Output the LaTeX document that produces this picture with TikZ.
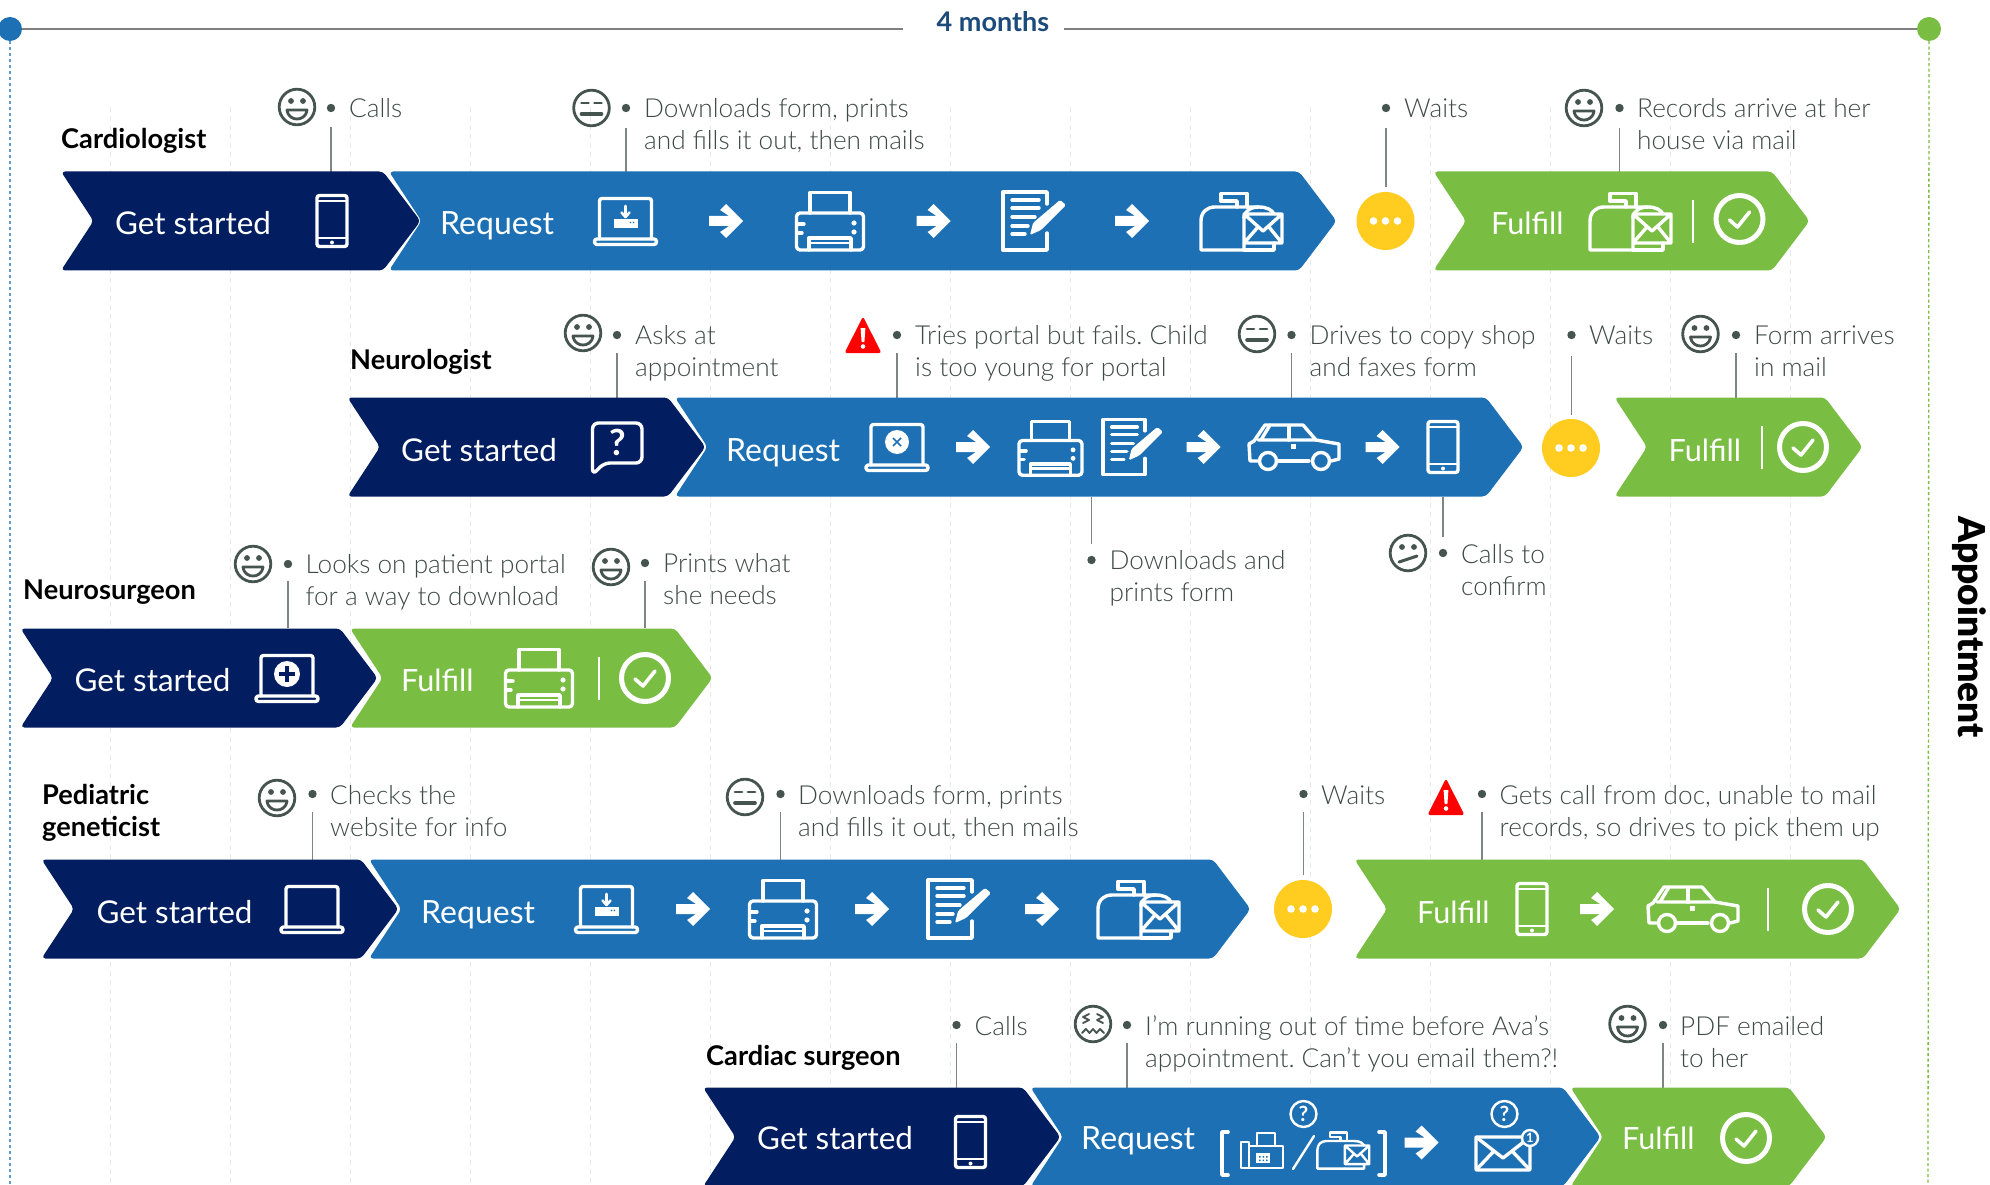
\documentclass[tikz,border=0pt]{standalone}
\usepackage{fontspec}
\setmainfont{Lato}[UprightFont=* Light,BoldFont=* Bold]
\newfontfamily\regf{Lato}
\newfontfamily\heavyf{Lato Black}
\frenchspacing
\definecolor{cdark}{HTML}{021E60}
\definecolor{cblue}{HTML}{1C70B3}
\definecolor{cgreen}{HTML}{79BD43}
\definecolor{cyellow}{HTML}{FFCC1F}
\definecolor{cface}{HTML}{46544F}
\definecolor{ctext}{HTML}{3E4A47}
\definecolor{cleader}{HTML}{7E8684}
\definecolor{cgrid}{HTML}{E9E9E9}
\definecolor{cmonths}{HTML}{1B4B7A}
\tikzset{
 x=1pt,y=-1pt,
 ic/.style={draw=white,line width=3.4,line join=round,line cap=round},
 icthin/.style={draw=white,line width=2.4,line join=round,line cap=round},
 fc/.style={draw=cface,line width=2.8,line cap=round,line join=round},
 annot/.style={anchor=north west,inner sep=0pt,align=left,text=ctext,font=\fontsize{26.2}{32}\selectfont},
 namelab/.style={anchor=base west,inner sep=0pt,align=left,text=black,font=\fontsize{27.2}{32}\selectfont\bfseries},
 chevlab/.style={anchor=base west,inner sep=0pt,text=white,font=\fontsize{32}{36}\selectfont\regf},
 getlab/.style={chevlab,font=\fontsize{31.4}{36}\selectfont\regf},
 fullab/.style={chevlab,font=\fontsize{30.6}{36}\selectfont\regf},
 bul/.style={circle,fill=cface,inner sep=0pt,minimum size=8.4pt},
 leader/.style={draw=cleader,line width=1.6},
 gridline/.style={draw=cgrid,line width=1,dash pattern=on 5pt off 4pt},
}
\newcommand\chev[5]{\fill[#5,rounded corners=4] (#2-1.5,#4-49.5) -- (#2+31,#4) -- (#2-1.5,#4+49.5) -- (#3-36,#4+49.5) -- (#3+1.5,#4) -- (#3-36,#4-49.5) -- cycle;\coordinate (#1) at (#2,#4);}
\newcommand\note[5]{\node[bul] (#1) at (#2,#3) {};\coordinate (#1-a) at (#2,#4);\coordinate (#1-b) at (#2,#5);\draw[leader] (#1-a) -- (#1-b);}
\newcommand\anno[4]{\node[annot] (#1) at (#2,#3-21.5) {\rule{0pt}{22pt}#4};}
\newcommand\dotw[3]{\node[circle,fill=cyellow,inner sep=0pt,minimum size=58pt] (#1) at (#2,#3) {};\fill[white] (#2-12,#3) circle[radius=3.8] (#2,#3) circle[radius=3.8] (#2+12,#3) circle[radius=3.8];}
% faces
\newcommand\facebase[2]{\draw[fc] (#1,#2) circle[radius=17.8];}
\newcommand\facehappy[2]{\facebase{#1}{#2}\begin{scope}[shift={(#1,#2)}]
 \fill[cface] (-6,-6) circle[radius=2.9] (6,-6) circle[radius=2.9];
 \draw[fc] (-10,3) -- (10,3) .. controls (9,10) and (4,12) .. (0,12) .. controls (-4,12) and (-9,10) .. (-10,3) -- cycle;
 \end{scope}}
\newcommand\faceflat[2]{\facebase{#1}{#2}\begin{scope}[shift={(#1,#2)}]
 \draw[fc] (-10,-5) -- (-3,-5) (3,-5) -- (10,-5);
 \draw[fc,line width=3.6] (-10,6) -- (10,6);
 \end{scope}}
\newcommand\faceconf[2]{\facebase{#1}{#2}\begin{scope}[shift={(#1,#2)}]
 \fill[cface] (-6,-6) circle[radius=2.9] (6,-6) circle[radius=2.9];
 \draw[fc,line width=3] (-9,9) -- (9,3);
 \end{scope}}
\newcommand\facegrim[2]{\facebase{#1}{#2}\begin{scope}[shift={(#1,#2)}]
 \draw[fc,line width=1.8] (-4,-10) -- (-10,-7) -- (-4,-4) -- (-10,-1);
 \draw[fc,line width=1.8] (4,-10) -- (10,-7) -- (4,-4) -- (10,-1);
 \draw[fc,line width=1.8] (-11,9) -- (-7,5) -- (-3.5,9) -- (0,5) -- (3.5,9) -- (7,5) -- (11,9);
 \end{scope}}
\newcommand\warn[2]{\begin{scope}[shift={(#1,#2)}]
 \fill[red,rounded corners=2.5] (0,-18.5) -- (18.5,18) -- (-18.5,18) -- cycle;
 \fill[white] (-2.4,-7) -- (2.4,-7) -- (1.4,7) -- (-1.4,7) -- cycle;
 \fill[white] (0,11.5) circle[radius=2.3];
 \end{scope}}
% icons
\newcommand\arr[2]{\fill[white,shift={(#1,#2)}] (17,0) -- (0,17) -- (-6,11) -- (3,5) -- (-17,5) -- (-17,-5) -- (3,-5) -- (-6,-11) -- (0,-17) -- cycle;}
\newcommand\phone[2]{\begin{scope}[shift={(#1,#2)}]
 \draw[ic,rounded corners=2.5] (-15,-25.5) rectangle (15,25.5);
 \draw[icthin,line width=2.5] (-15,-20) -- (15,-20) (-15,17) -- (15,17);
 \fill[white] (0,21.5) circle[radius=2];
 \end{scope}}
\newcommand\laptop[2]{\begin{scope}[shift={(#1,#2)}]
 \draw[ic,rounded corners=2.5] (-26,18) -- (-26,-22.5) -- (26,-22.5) -- (26,18);
 \draw[ic,rounded corners=2.5] (-31,18) rectangle (31,23.5);
 \end{scope}}
\newcommand\laptopdl[3]{\laptop{#1}{#2}\begin{scope}[shift={(#1,#2)}]
 \fill[white] (-11.5,-2) rectangle (12,7);
 \fill[#3] (5,1.5) circle[radius=.9] (8,1.5) circle[radius=.9];
 \draw[icthin,line width=2.6] (0,-15) -- (0,-5) (-4,-8.5) -- (0,-4) -- (4,-8.5);
 \end{scope}}
\newcommand\laptopx[3]{\laptop{#1}{#2}\begin{scope}[shift={(#1,#2)}]
 \fill[white] (0,-5) circle[radius=12];
 \draw[#3,line width=1.5] (-4,-9) -- (4,-1) (-4,-1) -- (4,-9);
 \end{scope}}
\newcommand\laptopplus[3]{\laptop{#1}{#2}\begin{scope}[shift={(#1,#2)}]
 \fill[white] (0,-4) circle[radius=13];
 \draw[#3,line width=4.4] (-8,-4) -- (8,-4) (0,-12) -- (0,4);
 \end{scope}}
\newcommand\printer[2]{\begin{scope}[shift={(#1,#2)}]
 \draw[ic] (-20,-8) -- (-20,-28.5) -- (20,-28.5) -- (20,-8);
 \draw[ic,rounded corners=3.5] (-33.5,-8) rectangle (33.5,29);
 \draw[ic] (-21,29) -- (-21,17) -- (21,17) -- (21,29);
 \draw[icthin] (-21,22) -- (21,22);
 \draw[ic] (-33,3) -- (-26,3) (-33,12) -- (-28,12);
 \fill[white] (24,2) circle[radius=2.6] (24,11) circle[radius=2.6];
 \end{scope}}
\newcommand\formicon[2]{\begin{scope}[shift={(#1,#2)}]
 \draw[ic] (22,-17) -- (22,-29) -- (-22,-29) -- (-22,29) -- (22,29) -- (22,12);
 \draw[ic] (-13,-21) -- (14,-21) (-13,-13) -- (14,-13) (-13,-4) -- (10,-4) (-13,5) -- (3,5) (-13,13) -- (0,13);
 \fill[white,rounded corners=1.5] (5,14) -- (8,2) -- (35,-21) -- (41,-16) -- (16,9) -- cycle;
 \end{scope}}
\newcommand\mailbox[3]{\begin{scope}[shift={(#1,#2)},scale=#3]
 \draw[ic] (3,29) -- (-40,29) -- (-40,0) .. controls (-40,-9) and (-34,-14) .. (-26,-14) -- (18,-14) .. controls (26,-14) and (31,-11) .. (33,-7);
 \draw[ic] (3,29) -- (33,29) -- (33,22);
 \draw[ic] (3,-3) .. controls (3,-10) and (10,-14) .. (18,-14);
 \draw[ic] (6,-14) -- (6,-27.5) -- (-20,-27.5) -- (-20,-20) -- (-4,-20) -- (-4,-14);
 \draw[ic] (3,-6) -- (3,29) (3,22) -- (41,22) -- (41,-7) -- (3,-7) (3,-7) -- (22,10) -- (41,-7) (3,22) -- (17,6) (41,22) -- (28,6);
 \end{scope}}
\newcommand\car[2]{\begin{scope}[shift={(#1,#2)}]
 \draw[ic] (-36,14) -- (-44,14) -- (-45,-3) -- (-40,-6) -- (-29,-22) -- (9,-22) -- (22,-7) -- (45,-3) -- (45,12) -- (37,14);
 \draw[ic] (-16,14) -- (15,14);
 \draw[ic] (-26,14) circle[radius=8.5] (27,14) circle[radius=8.5];
 \draw[ic] (-36,-7) -- (22,-7) (-24,-22) -- (-33,-7) ;
 \draw[ic,line width=3.8] (-5,-21) -- (-5,-7);
 \fill[white] (-3,-3) rectangle (2,1.5);
 \end{scope}}
\newcommand\bubble[2]{\begin{scope}[shift={(#1,#2)}]
 \draw[ic,rounded corners=6] (-24.5,30) -- (-24.5,-22) -- (25,-22) -- (25,18) -- (-13,18) -- cycle;
 \node[inner sep=0pt,text=white,font=\fontsize{36}{38}\selectfont\bfseries] (q#1) at (1,-2.5) {?};
 \end{scope}}
\newcommand\sepl[2]{\draw[white,line width=1.6] (#1,#2-21) -- (#1,#2+22);}
\newcommand\chkicon[2]{\begin{scope}[shift={(#1,#2)}]
 \draw[white,line width=5] (0,0) circle[radius=23.5];
 \draw[ic,line width=3.6] (-10,1) -- (-2,8) -- (10,-7);
 \end{scope}}
\newcommand\qcircle[2]{\begin{scope}[shift={(#1,#2)}]
 \draw[ic,line width=2.4] (0,0) circle[radius=13];
 \node[inner sep=0pt,text=white,font=\fontsize{21}{24}\selectfont\bfseries] (q#1) at (0,0) {?};
 \end{scope}}
\begin{document}
\begin{tikzpicture}
\useasboundingbox (0,0) rectangle (1990,1185);
\clip (0,0) rectangle (1990,1185);
\fill[white] (0,0) rectangle (1990,1185);
% grid
\foreach \gx in {110.5,230.5,...,1791}{\draw[gridline] (\gx,107) -- (\gx,1185);}
% timeline
\node[circle,fill=cblue,inner sep=0pt,minimum size=24pt] (tl) at (10,29) {};
\node[circle,fill=cgreen,inner sep=0pt,minimum size=24pt] (tr) at (1929,29) {};
\node[inner sep=0pt,text=cmonths,font=\fontsize{27}{32}\selectfont\bfseries,anchor=base] (months) at (993,32) {4 months};
\coordinate (la) at (903,29);\coordinate (lb) at (1064,29);
\draw[draw=gray,line width=1.6] (tl) -- (la);
\draw[draw=gray,line width=1.6] (lb) -- (tr);
\coordinate (tlb) at (10,1185);\coordinate (trb) at (1928,1185);
\draw[cblue!70!white,line width=1.8,dash pattern=on 3pt off 3pt] (tl) -- (tlb);
\draw[cgreen,line width=1.3,dash pattern=on 3pt off 2.5pt] (tr) -- (trb);
\node[rotate=-90,inner sep=0pt,text=black,font=\fontsize{37}{40}\selectfont\heavyf] (appt) at (1969,627) {Appointment};
% ROW 1
\node[namelab] (n1) at (61,148.5) {Cardiologist};
\note{b11}{331}{108}{127}{172}\facehappy{297}{107}\anno{t11}{349}{117}{Calls}
\note{b12}{626}{108}{128}{172}\faceflat{591.5}{108}\anno{t12}{644}{117}{Downloads form, prints\\and fills it out, then mails}
\note{b13}{1386}{108}{128}{187}\anno{t13}{1404}{117}{Waits}
\note{b14}{1619.5}{108}{128}{172}\facehappy{1584}{108}\anno{t14}{1637}{117}{Records arrive at her\\house via mail}
\chev{c11}{62.5}{419}{221}{cdark}
\chev{c12}{390.5}{1335}{221}{cblue}
\dotw{y1}{1385.5}{221}
\chev{c13}{1435}{1808}{221}{cgreen}
\node[getlab] (g1) at (115,235) {Get started};
\phone{332}{221}
\node[chevlab] (r1) at (440,235) {Request};
\laptopdl{625.5}{221}{cblue}
\arr{726}{221}\printer{830}{221}\arr{933.5}{221}\formicon{1025}{221}\arr{1132}{221}\mailbox{1241}{221}{1}
\node[fullab] (f1) at (1491,235) {Fulfill};
\mailbox{1630}{221}{1}\sepl{1693}{221}\chkicon{1739.5}{219}
% ROW 2
\node[namelab] (n2) at (350,369) {Neurologist};
\note{b21}{617}{335}{353}{398}\facehappy{583}{333}\anno{t21}{635}{344}{Asks at\\appointment}
\note{b22}{897}{335}{353}{398}\warn{863}{335}\anno{t22}{915}{344}{Tries portal but fails. Child\\is too young for portal}
\note{b23}{1291.5}{335}{353}{398}\faceflat{1257}{334}\anno{t23}{1309.5}{344}{Drives to copy shop\\and faxes form}
\note{b24}{1571.5}{335}{356}{415}\anno{t24}{1589}{344}{Waits}
\note{b25}{1736}{335}{353}{398}\facehappy{1700.5}{334}\anno{t25}{1754}{344}{Form arrives\\in mail}
\note{b26}{1091.5}{560}{497}{544}\anno{t26}{1109.5}{569}{Downloads and\\prints form}
\note{b27}{1443}{553}{497}{537}\faceconf{1408}{553}\anno{t27}{1461}{562.5}{Calls to\\confirm}
\chev{c21}{349}{704}{447}{cdark}
\chev{c22}{676.5}{1522}{447}{cblue}
\dotw{y2}{1571}{448}
\chev{c23}{1616}{1861}{447}{cgreen}
\node[getlab] (g2) at (401,461) {Get started};
\bubble{617}{445}
\node[chevlab] (r2) at (726,461) {Request};
\laptopx{897}{447}{cblue}
\arr{973}{447}
\begin{scope}[shift={(1050.5,448)},scale=.94]\printer{0}{0}\end{scope}
\begin{scope}[shift={(1124,447)},scale=.95]\formicon{0}{0}\end{scope}
\arr{1203.5}{447}\car{1294}{447}\arr{1382.5}{447}\phone{1443}{447}
\node[fullab] (f2) at (1668.5,461) {Fulfill};
\sepl{1762}{447}\chkicon{1803}{447}
% ROW 3
\node[namelab] (n3) at (23,599) {Neurosurgeon};
\note{b31}{288}{564}{581}{628}\facehappy{253}{564}\anno{t31}{305.5}{573}{Looks on patient portal\\for a way to download}
\note{b32}{645}{563}{581}{628}\facehappy{611}{567}\anno{t32}{663}{572}{Prints what\\she needs}
\chev{c31}{22}{376}{678}{cdark}
\chev{c32}{351.5}{711}{678}{cgreen}
\node[getlab] (g3) at (74.5,691) {Get started};
\laptopplus{287}{678}{cdark}
\node[fullab] (f3) at (401,691) {Fulfill};
\printer{539}{678}\sepl{599}{678}\chkicon{645}{678}
% ROW 4
\node[namelab] (n4) at (42,836) {Pediatric\\geneticist};
\note{b41}{312.5}{794}{812}{860}\facehappy{277}{798}\anno{t41}{330}{803.5}{Checks the\\website for info}
\note{b42}{780.5}{794}{812}{860}\faceflat{745}{797}\anno{t42}{798}{803.5}{Downloads form, prints\\and fills it out, then mails}
\note{b43}{1303.5}{794}{812}{875}\anno{t43}{1321}{803.5}{Waits}
\note{b44}{1482}{794}{812}{860}\warn{1446}{797}\anno{t44}{1499.5}{803.5}{Gets call from doc, unable to mail\\records, so drives to pick them up}
\chev{c41}{43}{397}{909}{cdark}
\chev{c42}{370.5}{1249}{909}{cblue}
\dotw{y4}{1303}{909}
\chev{c43}{1356}{1899}{909}{cgreen}
\node[getlab] (g4) at (96.5,923) {Get started};
\laptop{312}{909}
\node[chevlab] (r4) at (421,923) {Request};
\laptopdl{606.5}{909}{cblue}
\arr{693}{909}\printer{783}{909}\arr{872}{909}\formicon{950}{909}\arr{1042}{909}\mailbox{1138}{909}{1}
\node[fullab] (f4) at (1417,923) {Fulfill};
\phone{1532}{909}\arr{1597}{909}\car{1693}{909}\sepl{1768}{909}\chkicon{1828}{909}
% ROW 5
\node[namelab] (n5) at (706,1065) {Cardiac surgeon};
\note{b51}{956.5}{1025}{1043}{1088}\anno{t51}{974.5}{1034.5}{Calls}
\note{b52}{1127}{1025}{1043}{1088}\facegrim{1093}{1024}\anno{t52}{1145}{1034.5}{I’m running out of time before Ava’s\\appointment. Can’t you email them?!}
\note{b53}{1663}{1025}{1043}{1088}\facehappy{1627.5}{1024}\anno{t53}{1680}{1034.5}{PDF emailed\\to her}
\chev{c51}{704.5}{1059}{1137}{cdark}
\chev{c52}{1032}{1599}{1137}{cblue}
\chev{c53}{1572}{1825}{1137}{cgreen}
\node[getlab] (g5) at (757,1149) {Get started};
\phone{970.5}{1142}
\node[chevlab] (r5) at (1081,1149) {Request};
\draw[ic,line width=3.6] (1228,1132) -- (1222,1132) -- (1222,1175) -- (1228,1175);
\draw[ic,line width=3.6] (1379,1132) -- (1385,1132) -- (1385,1175) -- (1379,1175);
% fax
\draw[icthin] (1241,1142) rectangle (1249,1168);
\draw[icthin] (1249,1146) -- (1283,1146) -- (1283,1168) -- (1249,1168);
\draw[icthin] (1257,1146) -- (1257,1133) -- (1275,1133) -- (1275,1146);
\fill[white] (1256,1153) rectangle (1270,1163);
\fill[cblue] (1259,1156) rectangle (1260.5,1157.5) (1262.5,1156) rectangle (1264,1157.5) (1266,1156) rectangle (1267.5,1157.5) (1259,1159.5) rectangle (1260.5,1161) (1262.5,1159.5) rectangle (1264,1161) (1266,1159.5) rectangle (1267.5,1161);
\qcircle{1303.5}{1114}
\draw[icthin] (1293,1169) -- (1314,1136);
\begin{scope}[shift={(1343,1150)},scale=.64]
\draw[icthin] (3,29) -- (-40,29) -- (-40,0) .. controls (-40,-9) and (-34,-14) .. (-26,-14) -- (18,-14) .. controls (26,-14) and (31,-11) .. (33,-7);
\draw[icthin] (6,-14) -- (6,-27.5) -- (-20,-27.5) -- (-20,-20) -- (-4,-20) -- (-4,-14);
\draw[icthin] (3,-7) rectangle (41,22) (3,-7) -- (22,10) -- (41,-7) (3,22) -- (17,6) (41,22) -- (28,6) (3,29) -- (33,29) -- (33,22);
\end{scope}
\arr{1421.5}{1142.5}
\qcircle{1504.5}{1114}
\draw[ic,rounded corners=1] (1476,1137) rectangle (1530,1170);
\draw[ic] (1476,1137) -- (1503,1158) -- (1530,1137) (1476,1170) -- (1494,1151) (1530,1170) -- (1512,1151);
\draw[white,line width=2.4,fill=cblue] (1530,1138) circle[radius=8];
\node[inner sep=0pt,text=white,font=\fontsize{13}{14}\selectfont\bfseries] (one) at (1530,1138) {1};
\node[fullab] (f5) at (1622,1149) {Fulfill};
\chkicon{1746}{1138}
\end{tikzpicture}
\end{document}
